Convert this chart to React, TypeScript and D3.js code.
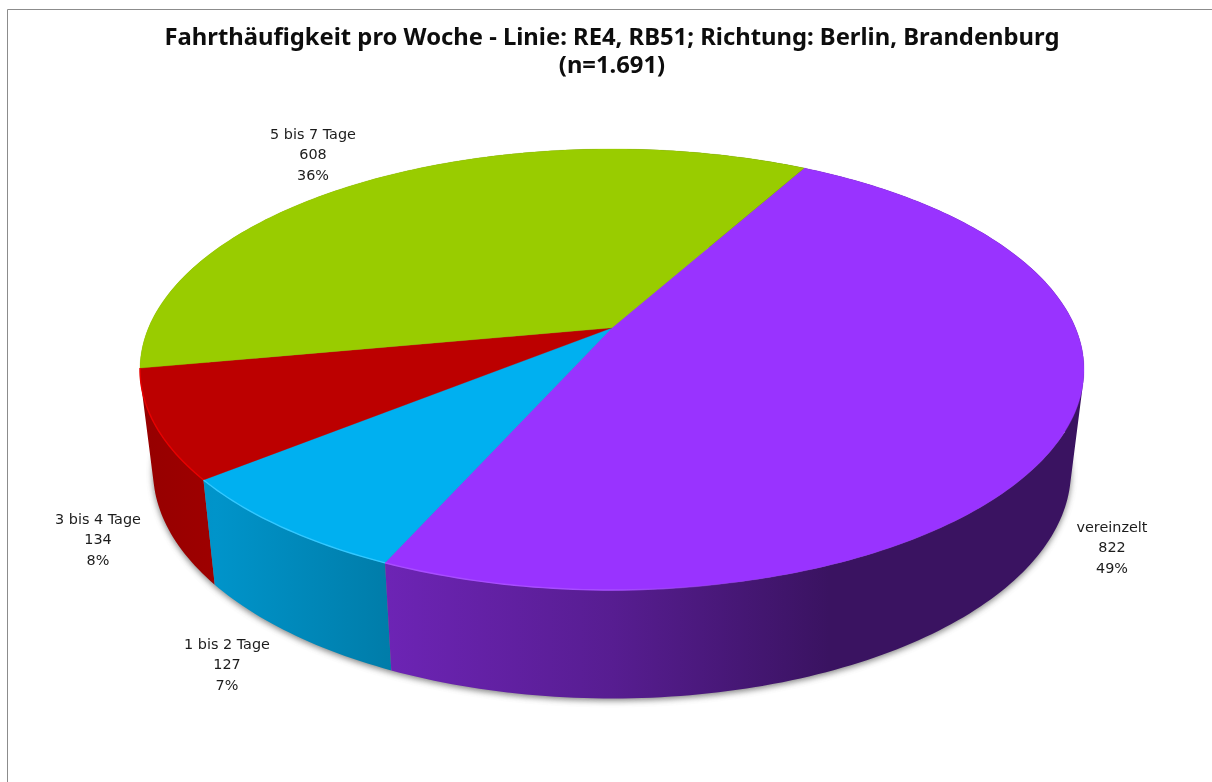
import React from "react";
import * as d3 from "d3";

const categories = ["vereinzelt", "1 bis 2 Tage", "3 bis 4 Tage", "5 bis 7 Tage"];
const counts = [822, 127, 134, 608];
const percentLabels = ["49%", "7%", "8%", "36%"];
const topColors = ["#9933ff", "#00b0f0", "#bc0000", "#99cc00"];
const rimColors = ["#a84dff", "#33c8ff", "#e80000", "#99cc00"];
const titleLines = ["Fahrthäufigkeit pro Woche - Linie: RE4, RB51; Richtung: Berlin, Brandenburg", "(n=1.691)"];

// layout constants (not data)
const W = 1212, H = 782;
const startDeg = 28.9;
const perspective = 0.189;
const topDisc = { cx: 612, cy: 369.5, rx: 472, ry: 220.5 };
const bottomDisc = { cx: 612, cy: 470.5, rx: 459, ry: 228 };
const labelAnchors: [number, number][] = [[1112, 527], [227, 644], [98, 519], [313, 134]];
const shadeStops: [number, number][] = [[0, 0.8], [0.08, 0.84], [0.26, 0.71], [0.5, 0.57], [0.73, 0.38], [1, 0.38]];

type Disc = typeof topDisc;
function project(d: Disc, a: number): [number, number] {
  const u = Math.sin(a), v = -Math.cos(a);
  const den = 1 - perspective * v;
  const vp = (v - perspective) / den;
  const up = (u * Math.sqrt(1 - perspective * perspective)) / den;
  const sx = d3.scaleLinear().domain([-1, 1]).range([d.cx - d.rx, d.cx + d.rx]);
  const sy = d3.scaleLinear().domain([-1, 1]).range([d.cy - d.ry, d.cy + d.ry]);
  return [sx(up), sy(vp)];
}
const apex = (d: Disc): [number, number] => {
  const sy = d3.scaleLinear().domain([-1, 1]).range([d.cy - d.ry, d.cy + d.ry]);
  return [d.cx, sy(-perspective)];
};

const pie = d3.pie<number>().sort(null).startAngle((startDeg * Math.PI) / 180).endAngle(((startDeg + 360) * Math.PI) / 180);
const arcs = pie(counts);
const line = d3.line<[number, number]>();

const samples = (a0: number, a1: number) => {
  const n = Math.max(2, Math.ceil(((a1 - a0) * 180) / Math.PI));
  return d3.range(n + 1).map((i) => a0 + ((a1 - a0) * i) / n);
};

const ellipsePath = (d: Disc) => `${line(samples(0, 2 * Math.PI).map((a) => project(d, a)))}Z`;
const topSlice = (a0: number, a1: number) => `${line([apex(topDisc), ...samples(a0, a1).map((a) => project(topDisc, a))])}Z`;
const rimPath = (a0: number, a1: number) => line(samples(a0, a1).map((a) => project(topDisc, a))) as string;
const sidePath = (a0: number, a1: number) => {
  const s = samples(a0, a1);
  return d3
    .pairs(s)
    .map(([p, q]) => {
      const quad = [project(topDisc, p), project(topDisc, q), project(bottomDisc, q), project(bottomDisc, p)];
      if (d3.polygonArea(quad) < 0) quad.reverse();
      return `${line(quad)}Z`;
    })
    .join("");
};
const shade = (color: string, k: number) => {
  const c = d3.rgb(color);
  return d3.rgb(c.r * k, c.g * k, c.b * k).formatHex();
};
const TITLE_FONT = "'Noto Sans', sans-serif";
const LABEL_FONT = "'DejaVu Sans', sans-serif";

export default function App() {
  const x0 = topDisc.cx - topDisc.rx, x1 = topDisc.cx + topDisc.rx;
  return (
    <svg width={W} height={H} viewBox={`0 0 ${W} ${H}`} style={{ position: "absolute", left: 0, top: 0, display: "block", background: "#fff" }}>
      <defs>
        <filter id="shadow" x="-5%" y="-5%" width="110%" height="110%">
          <feGaussianBlur stdDeviation="3" />
        </filter>
        <filter id="soft" x="-2%" y="-20%" width="104%" height="140%">
          <feGaussianBlur stdDeviation="0.35" />
        </filter>
        {topColors.map((c, i) => (
          <linearGradient key={c} id={`side${i}`} gradientUnits="userSpaceOnUse" x1={x0} x2={x1} y1={0} y2={0}>
            {shadeStops.map(([o, k]) => (
              <stop key={o} offset={o} stopColor={shade(c, k)} />
            ))}
          </linearGradient>
        ))}
        <linearGradient id="rimFade" gradientUnits="userSpaceOnUse" x1={x0} x2={x1} y1={0} y2={0}>
          <stop offset={0} stopColor="#fff" />
          <stop offset={0.5} stopColor="#fff" />
          <stop offset={0.62} stopColor="#000" />
        </linearGradient>
        <mask id="rimMask" maskUnits="userSpaceOnUse" x={0} y={0} width={W} height={H}>
          <rect width={W} height={H} fill="url(#rimFade)" />
        </mask>
      </defs>

      <path d={`M7.5 ${H}V9.5H${W}`} fill="none" stroke="#8c8c8c" strokeWidth={1} />

      <path d={ellipsePath(bottomDisc)} transform="translate(0,2)" fill="#555" opacity={0.75} filter="url(#shadow)" />

      {arcs
        .map((a, i) => <path key={`s${i}`} d={sidePath(a.startAngle, a.endAngle)} fill={`url(#side${i})`} />)
        .reverse()}
      {arcs.map((a, i) => (
        <path key={`t${i}`} d={topSlice(a.startAngle, a.endAngle)} fill={topColors[i]} stroke={topColors[i]} strokeWidth={0.3} />
      ))}
      <g mask="url(#rimMask)">
        {arcs.map((a, i) =>
          i < 3 ? (
            <path key={`r${i}`} d={rimPath(a.startAngle, a.endAngle)} fill="none" stroke={rimColors[i]} strokeWidth={1.4} />
          ) : null
        )}
      </g>

      <g filter="url(#soft)">
        <text fontFamily={TITLE_FONT} fontWeight={700} fontSize={23.8} fill="#0a0a0a" textAnchor="middle" y={44.5}>
          {titleLines.map((t, i) => (
            <tspan key={t} x={612} dy={i === 0 ? 0 : 28}>{t}</tspan>
          ))}
        </text>
        <g fontFamily={LABEL_FONT} fontSize={14.4} fill="#1c1c1c" textAnchor="middle">
          {categories.map((c, i) => (
            <text key={c} x={labelAnchors[i][0]} y={labelAnchors[i][1] + 5}>
              <tspan x={labelAnchors[i][0]}>{c}</tspan>
              <tspan x={labelAnchors[i][0]} dy={20.3}>{counts[i]}</tspan>
              <tspan x={labelAnchors[i][0]} dy={20.8}>{percentLabels[i]}</tspan>
            </text>
          ))}
        </g>
      </g>
    </svg>
  );
}
